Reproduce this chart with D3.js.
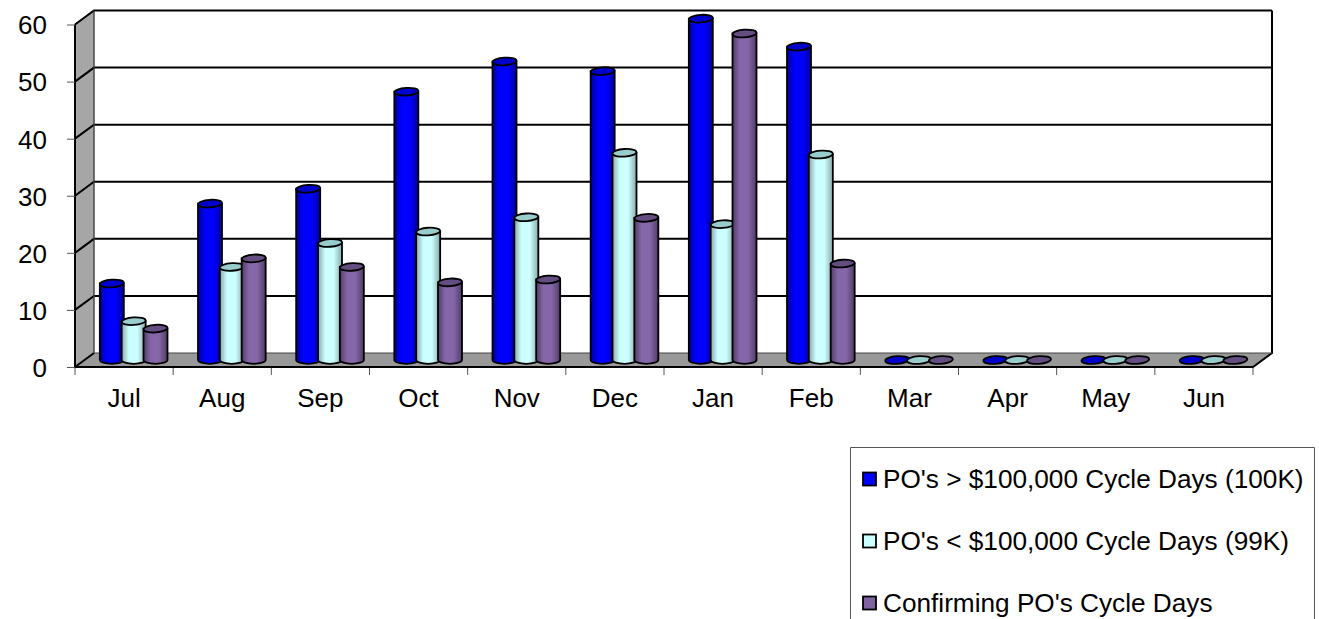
<!DOCTYPE html>
<html>
<head>
<meta charset="utf-8">
<script src="https://cdn.jsdelivr.net/npm/d3@7"></script>
<style>
html, body { margin: 0; padding: 0; background: #fff; overflow: hidden; }
text { font-family: "Liberation Sans", Arial, sans-serif; fill: #000; }
</style>
</head>
<body>
<svg id="chart" width="1319" height="619"></svg>
<script>
var months = ["Jul","Aug","Sep","Oct","Nov","Dec","Jan","Feb","Mar","Apr","May","Jun"];
var series_names = ["PO's > $100,000 Cycle Days (100K)", "PO's < $100,000 Cycle Days (99K)", "Confirming PO's Cycle Days"];
var big_po = [13.4,27.4,30,47,52.3,50.6,59.8,54.9,0,0,0,0];
var small_po = [6.8,16.3,20.5,22.5,25,36.3,23.8,36,0,0,0,0];
var confirming_po = [5.5,17.8,16.3,13.6,14.1,24.9,57.2,16.9,0,0,0,0];
var y_ticks = [0,10,20,30,40,50,60];

var all_values = [big_po, small_po, confirming_po];

// colours: body centre, body edge, top ellipse
var palette = [
  {mid: "#0000ff", edge: "#000099", top: "#0000cc", swatch: "#0000ff"},
  {mid: "#ccffff", edge: "#88aaaa", top: "#99cccc", swatch: "#ccffff"},
  {mid: "#8566a8", edge: "#4f3d66", top: "#644d80", swatch: "#8064a2"}
];

var svg = d3.select("#chart");

// front plane and the shift to the back wall
var front_left = 75, front_right = 1253, front_bottom = 367, front_top = 24.5;
var dx = 19, dy = -14;
var bar_shift_x = 8.5, bar_shift_y = -7;

var x = d3.scaleBand().domain(months).range([front_left, front_right]);
var x_inner = d3.scaleBand().domain([0,1,2]).range([0, 65.5]);
var y = d3.scaleLinear().domain([0,60]).range([front_bottom, front_top]);

var defs = svg.append("defs");
palette.forEach(function(p, i){
  var g = defs.append("linearGradient").attr("id", "cyl" + i);
  g.append("stop").attr("offset", "0%").attr("stop-color", p.edge);
  g.append("stop").attr("offset", "30%").attr("stop-color", p.mid);
  g.append("stop").attr("offset", "65%").attr("stop-color", p.mid);
  g.append("stop").attr("offset", "100%").attr("stop-color", p.edge);
});

// walls and floor
var wall_fill = "#a6a6a6";
svg.append("polygon")
  .attr("points", [[front_left,y(60)],[front_left+dx,y(60)+dy],[front_left+dx,y(0)+dy],[front_left,y(0)]].join(" "))
  .attr("fill", wall_fill).attr("stroke", "#333").attr("stroke-width", 1);
svg.append("polygon")
  .attr("points", [[front_left,y(0)],[front_left+dx,y(0)+dy],[front_right+dx,y(0)+dy],[front_right,y(0)]].join(" "))
  .attr("fill", "#999").attr("stroke", "none");

// gridlines on the back wall, running round the left wall
var grid = svg.append("g").attr("fill", "none").attr("stroke", "#000").attr("stroke-width", 2);
y_ticks.forEach(function(t){
  var pts = [[front_left,y(t)],[front_left+dx,y(t)+dy]];
  if (t > 0) pts.push([front_right+dx,y(t)+dy]);
  grid.append("polyline").attr("points", pts.join(" "));
});
grid.append("polyline").attr("points", [[front_right+dx,y(60)+dy],[front_right+dx,y(0)+dy],[front_right,y(0)],[front_left,y(0)],[front_left,y(60)]].join(" "));
grid.append("line")
  .attr("x1", front_left+dx).attr("x2", front_left+dx)
  .attr("y1", y(60)+dy).attr("y2", y(0)+dy)
  .attr("stroke", "#555").attr("stroke-width", 1);
svg.append("line")
  .attr("x1", front_left+dx).attr("x2", front_right+dx)
  .attr("y1", y(0)+dy).attr("y2", y(0)+dy)
  .attr("stroke", "#444").attr("stroke-width", 1);

// axes
var y_axis = d3.axisLeft(y).tickValues(y_ticks).tickSize(8).tickSizeOuter(0).tickFormat(d3.format("d"));
var y_g = svg.append("g").attr("transform", "translate(" + front_left + ",0)").call(y_axis);
y_g.select(".domain").remove();
y_g.selectAll("line").attr("stroke", "#555").attr("stroke-width", 1);
y_g.selectAll("text").attr("x", -28).attr("dy", "0.36em").attr("font-size", 26)
  .style("font-family", '"Liberation Sans", Arial, sans-serif');

var month_g = svg.append("g");
month_g.selectAll("line")
  .data(months.concat(["end"]))
  .enter().append("line")
  .attr("x1", function(d){ return d == "end" ? front_right : x(d); })
  .attr("x2", function(d){ return d == "end" ? front_right : x(d); })
  .attr("y1", front_bottom + 1).attr("y2", front_bottom + 8)
  .attr("stroke", "#555").attr("stroke-width", 1);
month_g.selectAll("text")
  .data(months)
  .enter().append("text")
  .attr("x", function(d){ return x(d) + x.bandwidth()/2; })
  .attr("y", 407)
  .attr("text-anchor", "middle")
  .attr("font-size", 26)
  .text(function(d){ return d; });

// cylinders
var bar_w = 24, ry = 3.8;
var bar_left = function(m){ return x(m) + (x.bandwidth() - 65.5)/2 + bar_shift_x; };
months.forEach(function(m, mi){
  all_values.forEach(function(vals, si){
    var left = bar_left(m) + x_inner(si);
    var cx = left + bar_w/2, rx = bar_w/2;
    var y_base = y(0) + bar_shift_y;
    var y_top = y(vals[mi]) + bar_shift_y;
    var g = svg.append("g").attr("stroke", "#000");
    if (vals[mi] > 0) {
      g.append("path")
        .attr("d", "M" + left + "," + y_top + "V" + y_base +
          "A" + rx + "," + ry + " 0 0 0 " + (left+bar_w) + "," + y_base +
          "V" + y_top + "Z")
        .attr("fill", "url(#cyl" + si + ")")
        .attr("stroke-width", 1.8);
    }
    // slight tilt on the top ellipse, as in a 3D column
    g.append("ellipse")
      .attr("cx", cx).attr("cy", y_top)
      .attr("rx", rx).attr("ry", ry)
      .attr("transform", "rotate(-4 " + cx + " " + y_top + ")")
      .attr("fill", palette[si].top)
      .attr("stroke-width", 1.8);
  });
});

// legend, its bottom edge runs off the page
var legend_y = [479.5, 541.5, 603.5];
svg.append("path")
  .attr("d", "M850.5,625V447.5H1314.5V625")
  .attr("fill", "#fff").attr("stroke", "#555").attr("stroke-width", 1);
var legend = svg.selectAll(".legend_item")
  .data(series_names)
  .enter().append("g").classed("legend_item", true)
  .attr("transform", function(d, i){ return "translate(863," + legend_y[i] + ")"; });
legend.append("rect")
  .attr("x", 0).attr("y", -7)
  .attr("width", 13).attr("height", 13)
  .attr("fill", function(d, i){ return palette[i].swatch; })
  .attr("stroke", "#000").attr("stroke-width", 1.8);
legend.append("text")
  .attr("x", 20).attr("y", 8.5)
  .attr("font-size", 26.2)
  .text(function(d){ return d; });
</script>
</body>
</html>
